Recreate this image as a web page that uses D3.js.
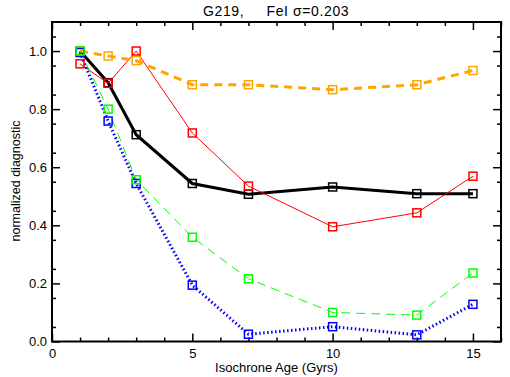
<!DOCTYPE html>
<html lang="en">
<head>
<meta charset="utf-8"/>
<script src="https://d3js.org/d3.v7.min.js"></script>
<title>G219</title>
<style>
    body { margin: 0; background: #fff; }
    svg { display: block; font-family: "Liberation Sans", Arial, sans-serif; }
</style>
</head>
<body>
<svg width="510" height="377"></svg>
<script>
    // ages (Gyr) and normalized diagnostics
    const ages = [1, 2, 3, 5, 7, 10, 13, 15];
    const blackVals  = [1.000, 0.891, 0.712, 0.544, 0.507, 0.532, 0.509, 0.509];
    const redVals    = [0.956, 0.889, 1.000, 0.718, 0.535, 0.395, 0.443, 0.569];
    const orangeVals = [1.000, 0.983, 0.967, 0.884, 0.884, 0.867, 0.884, 0.933];
    const blueVals   = [0.995, 0.759, 0.544, 0.194, 0.025, 0.051, 0.023, 0.128];
    const greenVals  = [1.000, 0.800, 0.557, 0.359, 0.216, 0.100, 0.091, 0.236];
    const xTicks = [0, 5, 10, 15];
    const yTicks = [0, 0.2, 0.4, 0.6, 0.8, 1.0];

    const series = [
        {vals: blackVals, color: "#000000", width: 3, dash: null},
        {vals: redVals, color: "#ff0000", width: 1, dash: null},
        {vals: orangeVals, color: "#ffa500", width: 3, dash: "8,6"},
        {vals: blueVals, color: "#0000ff", width: 3, dash: "1.5,2.5"},
        {vals: greenVals, color: "#00ff00", width: 1, dash: "9,6"}
    ];

    const svg = d3.select("svg");
    const pLeft = 52, pRight = 501, pTop = 22, pBottom = 341.5;

    const x = d3.scaleLinear().domain([0, 16]).range([pLeft, pRight]);
    const y = d3.scaleLinear().domain([0, 1.1]).range([pBottom, pTop]);

    // axes, IDL style: ticks on all four sides, pointing inward
    const minorX = d3.range(0, 17, 1).filter(d => d % 5 !== 0);
    const minorY = d3.range(1, 22, 2).map(d => d * 0.05);

    function tickAxis(axisFn, scale, vals, size, translate, fmt) {
        const g = svg.append("g").attr("transform", translate)
            .call(axisFn(scale).tickValues(vals).tickSize(size).tickSizeOuter(0)
                .tickFormat(fmt || (() => "")));
        g.select(".domain").remove();
        g.selectAll(".tick line").attr("stroke", "#000").attr("stroke-width", 1.5);
        g.selectAll("text").attr("font-size", 13).attr("fill", "#000");
        return g;
    }

    // bottom
    const gb = tickAxis(d3.axisTop, x, xTicks, 8, `translate(0,${pBottom})`, d3.format("d"));
    gb.selectAll("text").attr("y", 16).attr("dy", "0");
    tickAxis(d3.axisTop, x, minorX, 4, `translate(0,${pBottom})`);
    // top
    tickAxis(d3.axisBottom, x, xTicks, 8, `translate(0,${pTop})`);
    tickAxis(d3.axisBottom, x, minorX, 4, `translate(0,${pTop})`);
    // left
    const gl = tickAxis(d3.axisRight, y, yTicks, 8, `translate(${pLeft},0)`, d3.format(".1f"));
    gl.selectAll("text").attr("x", -5).attr("text-anchor", "end");
    tickAxis(d3.axisRight, y, minorY, 4, `translate(${pLeft},0)`);
    // right
    tickAxis(d3.axisLeft, y, yTicks, 8, `translate(${pRight},0)`);
    tickAxis(d3.axisLeft, y, minorY, 4, `translate(${pRight},0)`);

    svg.append("rect")
        .attr("x", pLeft).attr("y", pTop)
        .attr("width", pRight - pLeft).attr("height", pBottom - pTop)
        .attr("fill", "none").attr("stroke", "#000").attr("stroke-width", 2);

    // series
    const line = d3.line().x((d, i) => x(ages[i])).y(d => y(d));
    series.forEach(s => {
        svg.append("path")
            .attr("d", line(s.vals))
            .attr("fill", "none")
            .attr("stroke", s.color)
            .attr("stroke-width", s.width)
            .attr("stroke-dasharray", s.dash);
    });
    series.forEach(s => {
        svg.append("g").selectAll("rect")
            .data(s.vals)
            .join("rect")
            .attr("x", (d, i) => x(ages[i]) - 4)
            .attr("y", d => y(d) - 4)
            .attr("width", 8).attr("height", 8)
            .attr("fill", "none")
            .attr("stroke", s.color)
            .attr("stroke-width", 1.5);
    });

    // labels
    svg.append("text")
        .attr("x", 203).attr("y", 16)
        .attr("font-size", 14)
        .attr("letter-spacing", 0.6)
        .attr("xml:space", "preserve")
        .text("G219,     FeI \u03c3=0.203");

    svg.append("text")
        .attr("x", 276.5).attr("y", 372)
        .attr("text-anchor", "middle")
        .attr("font-size", 13)
        .text("Isochrone Age (Gyrs)");

    svg.append("text")
        .attr("transform", `translate(20,181) rotate(-90)`)
        .attr("text-anchor", "middle")
        .attr("font-size", 12.5)
        .text("normalized diagnostic");
</script>
</body>
</html>
